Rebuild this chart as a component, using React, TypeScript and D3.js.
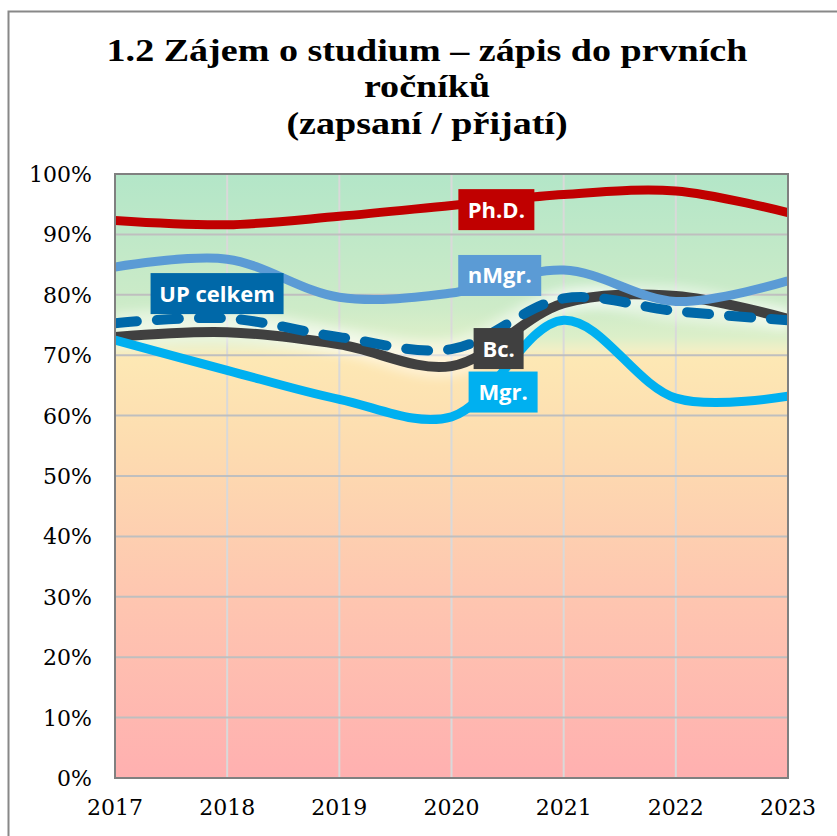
import React from 'react';
import * as d3 from 'd3';

const years = [2017, 2018, 2019, 2020, 2021, 2022, 2023];
const phd = [92.3, 91.6, 93.0, 94.8, 96.6, 97.2, 93.6];
const nMgr = [84.6, 85.9, 79.6, 80.3, 84.1, 78.9, 82.3];
const upCelkem = [75.3, 76.1, 73.0, 71.0, 79.4, 77.3, 75.8];
const bc = [73.0, 73.8, 71.8, 68.2, 78.6, 79.8, 76.0];
const mgr = [72.5, 67.5, 62.7, 59.8, 75.8, 62.9, 63.2];
const yTicks = [0, 10, 20, 30, 40, 50, 60, 70, 80, 90, 100];
const titleLines = ['1.2 Zájem o studium – zápis do prvních', 'ročníků', '(zapsaní / přijatí)'];

// series in drawing order
const series = [
    { name: 'Bc.', values: bc, color: '#404040', width: 10, glow: true },
    { name: 'Mgr.', values: mgr, color: '#00b0f0', width: 9 },
    { name: 'Ph.D.', values: phd, color: '#c00000', width: 9 },
    { name: 'nMgr.', values: nMgr, color: '#5b9bd5', width: 9 },
    { name: 'UP celkem', values: upCelkem, color: '#0068a8', width: 10, dash: '22 20', glow: true },
];

// label anchors in data space (year, percent)
const labels = [
    { text: 'Ph.D.', year: 2020.4, pct: 94.1, color: '#c00000', w: 76 },
    { text: 'nMgr.', year: 2020.43, pct: 83.2, color: '#5b9bd5', w: 83 },
    { text: 'Bc.', year: 2020.42, pct: 71.1, color: '#404040', w: 50 },
    { text: 'Mgr.', year: 2020.46, pct: 63.9, color: '#00b0f0', w: 69 },
    { text: 'UP celkem', year: 2017.91, pct: 80.2, color: '#0068a8', w: 133 },
];

const W = 837, H = 836;
const plot = { left: 115, right: 788, top: 174, bottom: 778 };

export default function App() {
    const x = d3.scaleLinear().domain([2017, 2023]).range([plot.left, plot.right]);
    const y = d3.scaleLinear().domain([0, 100]).range([plot.bottom, plot.top]);
    const line = d3.line<number>()
        .x((d, i) => x(years[i]))
        .y(d => y(d))
        .curve(d3.curveCatmullRom.alpha(0.5));
    const serif = '"DejaVu Serif", serif';

    return (
        <svg width={W} height={H} style={{ position: 'absolute', left: 0, top: 0 }}>
            <defs>
                <linearGradient id="bg" x1="0" y1="0" x2="0" y2="1">
                    <stop offset="0" stopColor="#b3e6c8" />
                    <stop offset="0.22" stopColor="#cdebc8" />
                    <stop offset="0.27" stopColor="#dcefc9" />
                    <stop offset="0.29" stopColor="#f0efc6" />
                    <stop offset="0.305" stopColor="#fde8b4" />
                    <stop offset="0.45" stopColor="#fddcb0" />
                    <stop offset="0.7" stopColor="#fec6b0" />
                    <stop offset="1" stopColor="#ffb0b0" />
                </linearGradient>
                <filter id="glow" x="-10%" y="-50%" width="120%" height="200%">
                    <feGaussianBlur stdDeviation="5" />
                </filter>
                <clipPath id="clip">
                    <rect x={plot.left} y={plot.top - 10} width={plot.right - plot.left} height={plot.bottom - plot.top + 10} />
                </clipPath>
            </defs>

            {/* chart frame, runs off the page to the right and bottom */}
            <rect x={8.5} y={11.5} width={W + 20} height={H + 20} fill="#fff" stroke="#888" strokeWidth={2} />

            <g transform="translate(427,0) scale(1.19,1)">
                {titleLines.map((t, i) => (
                    <text key={i} x={0} y={61 + i * 36.5} textAnchor="middle"
                          style={{ font: `bold 32px "Liberation Serif", serif` }} fill="#000">{t}</text>
                ))}
            </g>

            <rect x={plot.left} y={plot.top} width={plot.right - plot.left} height={plot.bottom - plot.top} fill="url(#bg)" />

            {years.slice(1, -1).map(yr => (
                <line key={yr} x1={x(yr)} x2={x(yr)} y1={plot.top} y2={plot.bottom} stroke="#d9d9d9" strokeWidth={2} />
            ))}
            {yTicks.slice(1, -1).map(t => (
                <line key={t} x1={plot.left} x2={plot.right} y1={y(t)} y2={y(t)} stroke="#bfbfbf" strokeWidth={2} />
            ))}

            <g clipPath="url(#clip)">
                {series.filter(s => s.glow).map(s => (
                    <path key={'g' + s.name} d={line(s.values) || ''} fill="none" stroke="#fff" strokeOpacity={0.4}
                          strokeWidth={s.width + 12} filter="url(#glow)" />
                ))}
                {series.map(s => (
                    <path key={s.name} d={line(s.values) || ''} fill="none" stroke={s.color} strokeWidth={s.width}
                          strokeDasharray={s.dash} strokeLinecap={s.dash ? 'round' : 'butt'} />
                ))}
            </g>

            <rect x={plot.left} y={plot.top} width={plot.right - plot.left} height={plot.bottom - plot.top}
                  fill="none" stroke="#808080" strokeWidth={2} />

            {yTicks.map(t => (
                <text key={t} x={92} y={y(t) + 8} textAnchor="end" style={{ font: `22px ${serif}` }} fill="#000">{t}%</text>
            ))}
            {years.map(yr => (
                <text key={yr} x={x(yr)} y={815} textAnchor="middle" style={{ font: `22px ${serif}` }} fill="#000">{yr}</text>
            ))}

            {labels.map(l => (
                <g key={l.text}>
                    <rect x={x(l.year) - l.w / 2} y={y(l.pct) - 20.5} width={l.w} height={41} fill={l.color} />
                    <text x={x(l.year)} y={y(l.pct) + 8} textAnchor="middle" fill="#fff"
                          style={{ font: 'bold 22px "Open Sans", sans-serif' }}>{l.text}</text>
                </g>
            ))}
        </svg>
    );
}
